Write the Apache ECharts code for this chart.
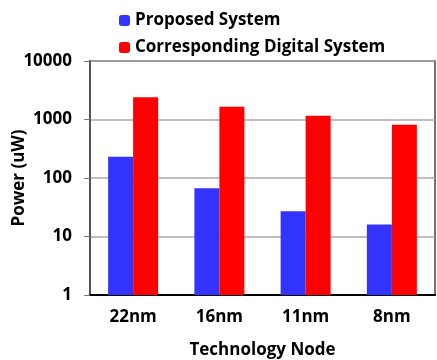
<!DOCTYPE html>
<html>
<head>
<meta charset="utf-8">
<script src="https://cdn.jsdelivr.net/npm/echarts@6/dist/echarts.min.js"></script>
<style>
  html, body { margin: 0; padding: 0; background: #fff; }
  #chart { width: 437px; height: 360px; }
</style>
</head>
<body>
<div id="chart"></div>
<script>
// Power per technology node (uW), log scale
const nodes = ['22nm', '16nm', '11nm', '8nm'];
const proposedPower = [231, 67, 27, 16];
const digitalPower = [2400, 1650, 1160, 815];
const seriesNames = ['Proposed System', 'Corresponding Digital System'];

const font = '"Open Sans", "DejaVu Sans", sans-serif';
const textBase = { fontFamily: font, fontWeight: 'bold', fontSize: 17, color: '#000' };

const chart = echarts.init(document.getElementById('chart'), null, { renderer: 'canvas' });
chart.setOption({
  animation: false,
  backgroundColor: '#ffffff',
  legend: {
    orient: 'vertical',
    left: 114,
    top: 7,
    itemWidth: 11,
    itemHeight: 11,
    itemGap: 10,
    textStyle: textBase,
    data: seriesNames
  },
  grid: {
    left: 90, right: 2, top: 61, bottom: 65,
    containLabel: false,
    outerBoundsMode: 'none',
    show: true, borderColor: '#444', borderWidth: 1.5, backgroundColor: 'transparent'
  },
  xAxis: {
    type: 'category',
    data: nodes,
    name: 'Technology Node',
    nameLocation: 'middle',
    nameGap: 47,
    nameMoveOverlap: false,
    nameTextStyle: textBase,
    axisLine: { lineStyle: { color: '#000', width: 2 } },
    axisTick: { show: false },
    axisLabel: Object.assign({ margin: 14 }, textBase)
  },
  yAxis: {
    type: 'log',
    logBase: 10,
    min: 1,
    max: 10000,
    name: 'Power (uW)',
    nameLocation: 'middle',
    nameGap: 62,
    nameMoveOverlap: false,
    nameTextStyle: textBase,
    axisLine: { show: true, lineStyle: { color: '#555', width: 2 } },
    axisTick: { show: true, inside: false, length: 6, lineStyle: { color: '#777' } },
    axisLabel: Object.assign({ margin: 18, formatter: v => String(v) }, textBase),
    splitLine: { show: true, lineStyle: { color: '#aaa', width: 1.5 } }
  },
  series: [
    {
      name: seriesNames[0],
      type: 'bar',
      data: proposedPower,
      itemStyle: { color: '#3333ff' },
      barWidth: 25,
      barGap: '0%'
    },
    {
      name: seriesNames[1],
      type: 'bar',
      data: digitalPower,
      itemStyle: { color: '#ff0000' },
      barWidth: 25,
      barGap: '0%'
    }
  ]
});
</script>
</body>
</html>
